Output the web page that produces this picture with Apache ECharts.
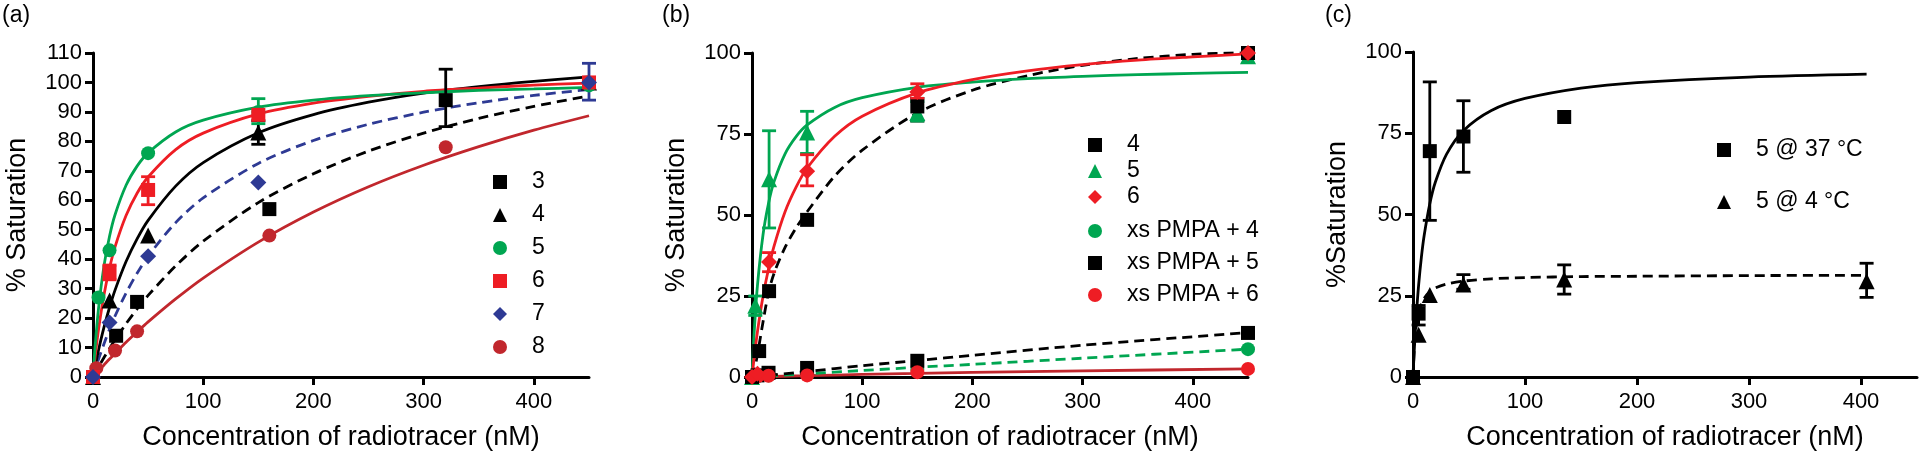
<!DOCTYPE html>
<html>
<head>
<meta charset="utf-8">
<title>Saturation binding</title>
<script src="https://cdn.jsdelivr.net/npm/echarts@6/dist/echarts.min.js"></script>
<style>
  html, body { margin: 0; padding: 0; background: #fff; }
  #chart { width: 1920px; height: 456px; }
</style>
</head>
<body>
<div id="chart"></div>
<script>
// 坐标轴刻度
const xTicks = [0, 100, 200, 300, 400]

// (a) 数据点 [nM, %]
const a3 = [[0, 0], [21, 14], [40, 25.5], [160, 57], [320, 94]]
const a4 = [[0, 0], [15, 26], [50, 48], [150, 83], [450, 100]]
const a5 = [[0, 0], [5, 27], [15, 43], [50, 76], [150, 90], [450, 99]]
const a6 = [[0, 0], [15, 35.5], [50, 63.5], [150, 89], [450, 100]]
const a7 = [[0, 0], [15, 18.5], [50, 41], [150, 66], [450, 100]]
const a8 = [[0, 0], [3, 3], [20, 9], [40, 15.5], [160, 48], [320, 78]]
// (a) 误差 [nM, low, high]
const a3Err = [[320, 85, 104.5]]
const a4Err = [[150, 79, 87]]
const a5Err = [[150, 86, 94.5]]
const a6Err = [[15, 33, 38], [50, 58.5, 68]]
const a7Err = [[450, 94, 106.5]]
// (a) 拟合曲线
const aFitX = [0, 2, 5, 10, 15, 20, 30, 40, 50, 75, 100, 150, 200, 250, 300, 350, 400, 450]
const a3Fit = [0, 1.4, 3.4, 6.6, 9.7, 12.6, 18.1, 23.1, 27.7, 37.7, 46.1, 59.2, 69, 76.7, 82.8, 87.8, 91.9, 95.4]
const a4Fit = [0, 3.8, 9.1, 16.9, 23.6, 29.5, 39.2, 46.9, 53.2, 64.8, 72.8, 82.9, 89.1, 93.3, 96.4, 98.6, 100.4, 101.9]
const a5Fit = [0, 10.7, 23.2, 37.8, 47.8, 55.1, 65.1, 71.6, 76.1, 83.2, 87.2, 91.6, 94, 95.5, 96.5, 97.3, 97.8, 98.3]
const a6Fit = [0, 7.1, 16.1, 27.9, 37, 44.2, 54.8, 62.4, 67.9, 77.2, 82.8, 89.3, 93, 95.3, 97, 98.1, 99.1, 99.8]
const a7Fit = [0, 2.5, 6, 11.3, 16.2, 20.7, 28.5, 35.2, 41, 52.4, 60.8, 72.5, 80.3, 85.8, 89.9, 93.1, 95.6, 97.6]
const a8Fit = [0, 0.8, 2.1, 4.1, 6.1, 8, 11.8, 15.3, 18.7, 26.5, 33.6, 45.8, 56, 64.6, 71.9, 78.2, 83.8, 88.7]

// (b) 数据点
const b4 = [[0, 0], [6.5, 8], [15.5, 26.5], [50, 48.5], [150, 83.5], [450, 100]]
const b5 = [[0, 0], [3, 22], [15.5, 61], [50, 75.5], [150, 81.5], [450, 99]]
const b6 = [[0, 0], [5, 1], [15.5, 35.5], [50, 63.5], [150, 88], [450, 100]]
const bX4 = [[0, 0], [5, 0.3], [15, 0.5], [50, 0.8], [150, 2.5], [450, 8.6]]
const bX5 = [[0, 0], [5, 0.5], [15, 1.3], [50, 2.8], [150, 5], [450, 13.6]]
const bX6 = [[0, 0], [5, 0.2], [15, 0.4], [50, 0.5], [150, 1.5], [450, 2.5]]
const b4Err = [[150, 79, 86]]
const b5Err = [[3, 19, 25], [15.5, 46, 76], [50, 69, 82], [150, 79, 85]]
const b6Err = [[15.5, 32.5, 38.4], [50, 59, 68.6], [150, 86, 90.5]]
const bFitX = [0, 2, 5, 10, 15, 20, 30, 40, 50, 75, 100, 150, 200, 250, 300, 350, 400, 450]
const b4Fit = [0, 2, 7, 17, 26, 32, 40, 46, 51, 62, 70, 81.5, 88.5, 93, 96.2, 98.3, 99.6, 100.2]
const b5Fit = [0, 13.8, 28.4, 43.9, 53.6, 60.3, 68.9, 74.2, 77.8, 83.2, 86.2, 89.4, 91, 92.1, 92.8, 93.3, 93.7, 94]
const b6Fit = [0, 6.1, 14.1, 24.9, 33.4, 40.4, 51, 58.6, 64.5, 74.3, 80.5, 87.7, 91.8, 94.5, 96.4, 97.8, 98.8, 99.7]
const bLowX = [0, 50, 100, 150, 200, 300, 450]
const bX4Fit = [0, 1, 2, 3, 3.9, 5.8, 8.6]
const bX5Fit = [0, 1.7, 3.5, 5.1, 6.7, 9.8, 13.7]
const bX6Fit = [0, 0.4, 0.8, 1.1, 1.4, 1.9, 2.5]

// (c) 数据点
const c37 = [[0, 0], [5, 19.5], [15, 69.5], [45, 74], [135, 80]]
const c4 = [[0, 0], [5, 13], [15, 25.2], [45, 28.5], [135, 30], [405, 29.5]]
const c37Err = [[5, 16, 22], [15, 48.2, 90.8], [45, 63, 85]]
const c4Err = [[45, 27, 31.5], [135, 25.5, 34.5], [405, 24.5, 35]]
const cFitX = [0, 1, 2, 3, 5, 7.5, 10, 15, 20, 30, 45, 70, 100, 150, 200, 300, 405]
const c37Fit = [0, 7.4, 13.7, 19.2, 28.2, 36.9, 43.6, 53.3, 60, 68.6, 75.8, 82, 85.7, 88.9, 90.6, 92.3, 93.2]
const c4Fit = [0, 7.9, 12.6, 15.8, 19.7, 22.5, 24.2, 26.3, 27.4, 28.6, 29.5, 30.2, 30.6, 30.9, 31, 31.2, 31.3]

// 颜色
const BLACK = '#000'
const GREEN = '#00a651'
const RED = '#ee1d24'
const DARKRED = '#c1272d'
const BLUE = '#2e3a94'
const FONT = '"Liberation Sans", Arial, Helvetica, sans-serif'

const legendNames = {
    a3: '3', a4: '4', a5: '5', a6: '6', a7: '7', a8: '8',
    b4: '4', b5: '5', b6: '6', bX4: 'xs PMPA + 4', bX5: 'xs PMPA + 5', bX6: 'xs PMPA + 6',
    c37: '5 @ 37 °C', c4: '5 @ 4 °C'
}

const zip = (xs, ys) => xs.map((x, i) => [x, ys[i]])

const fit = (idx, xs, ys, color, dashed) => ({
    type: 'line',
    xAxisIndex: idx,
    yAxisIndex: idx,
    data: zip(xs, ys),
    showSymbol: false,
    smooth: 0.3,
    silent: true,
    lineStyle: { color: color, width: 2.8, type: dashed ? [10, 6] : 'solid' },
    z: 2
})

const renderErr = (params, api) => {
    const x = api.value(0)
    const lo = api.coord([x, api.value(1)])
    const hi = api.coord([x, api.value(2)])
    const w = 7
    const style = { stroke: api.visual('color'), lineWidth: 2.8 }
    return {
        type: 'group',
        children: [
            { type: 'line', shape: { x1: lo[0], y1: lo[1], x2: hi[0], y2: hi[1] }, style: style },
            { type: 'line', shape: { x1: hi[0] - w, y1: hi[1], x2: hi[0] + w, y2: hi[1] }, style: style },
            { type: 'line', shape: { x1: lo[0] - w, y1: lo[1], x2: lo[0] + w, y2: lo[1] }, style: style }
        ]
    }
}

const err = (idx, data, color) => ({
    type: 'custom',
    xAxisIndex: idx,
    yAxisIndex: idx,
    data: data,
    itemStyle: { color: color },
    renderItem: renderErr,
    silent: true,
    z: 3
})

const pts = (idx, name, data, symbol, size, color) => ({
    type: 'scatter',
    name: name,
    xAxisIndex: idx,
    yAxisIndex: idx,
    data: data,
    symbol: symbol,
    symbolSize: size,
    itemStyle: { color: color, opacity: 1 },
    z: 4
})

const axisBase = {
    axisLine: { show: true, onZero: false, lineStyle: { color: BLACK, width: 3 } },
    axisTick: { show: true, inside: false, length: 8, lineStyle: { color: BLACK, width: 3 } },
    splitLine: { show: false },
    nameTextStyle: { fontSize: 27, color: BLACK, fontFamily: FONT }
}

const xAxis = (idx) => Object.assign({}, axisBase, {
    type: 'value',
    gridIndex: idx,
    min: 0,
    max: 450,
    interval: 100,
    name: 'Concentration of radiotracer (nM)',
    nameLocation: 'middle',
    nameGap: 47,
    axisTick: Object.assign({}, axisBase.axisTick, { customValues: xTicks }),
    axisLabel: { fontSize: 22, color: BLACK, fontFamily: FONT, margin: 14, customValues: xTicks }
})

const yAxis = (idx, max, interval, name) => Object.assign({}, axisBase, {
    type: 'value',
    gridIndex: idx,
    min: 0,
    max: max,
    interval: interval,
    name: name,
    nameLocation: 'middle',
    nameGap: 62,
    axisLabel: { fontSize: 22, color: BLACK, fontFamily: FONT, margin: 11 }
})

const legend = (data, left, top, gap) => ({
    data: data,
    orient: 'vertical',
    left: left,
    top: top,
    itemWidth: 14,
    itemHeight: 14,
    itemGap: gap,
    padding: 0,
    selectedMode: false,
    formatter: (n) => legendNames[n],
    textStyle: {
        fontSize: 23,
        lineHeight: 24,
        color: BLACK,
        fontFamily: FONT,
        padding: [0, 0, 0, 20]
    }
})

const chart = echarts.init(document.getElementById('chart'), null, { renderer: 'canvas' })

const option = {
    backgroundColor: '#fff',
    animation: false,
    textStyle: { fontFamily: FONT },
    title: [
        { text: '(a)', left: 2, top: 4, padding: 0, textStyle: { fontSize: 23, fontWeight: 'normal', color: BLACK, fontFamily: FONT } },
        { text: '(b)', left: 662, top: 4, padding: 0, textStyle: { fontSize: 23, fontWeight: 'normal', color: BLACK, fontFamily: FONT } },
        { text: '(c)', left: 1325, top: 4, padding: 0, textStyle: { fontSize: 23, fontWeight: 'normal', color: BLACK, fontFamily: FONT } }
    ],
    grid: [
        { left: 93, top: 53, width: 496, height: 325 },
        { left: 752, top: 53, width: 496, height: 325 },
        { left: 1413, top: 52, width: 504, height: 325 }
    ],
    xAxis: [xAxis(0), xAxis(1), xAxis(2)],
    yAxis: [
        yAxis(0, 110, 10, '% Saturation'),
        yAxis(1, 100, 25, '% Saturation'),
        yAxis(2, 100, 25, '%Saturation')
    ],
    legend: [
        legend(['a3', 'a4', 'a5', 'a6', 'a7', 'a8'], 493, 170, 9),
        legend(['b4', 'b5', 'b6'], 1088, 133, 2),
        legend(['bX4', 'bX5', 'bX6'], 1088, 219, 8),
        legend(['c37', 'c4'], 1717, 138, 28)
    ],
    series: [
        // (a)
        fit(0, aFitX, a8Fit, DARKRED, false),
        fit(0, aFitX, a3Fit, BLACK, true),
        fit(0, aFitX, a7Fit, BLUE, true),
        fit(0, aFitX, a4Fit, BLACK, false),
        fit(0, aFitX, a6Fit, RED, false),
        fit(0, aFitX, a5Fit, GREEN, false),
        err(0, a3Err, BLACK),
        err(0, a4Err, BLACK),
        err(0, a5Err, GREEN),
        err(0, a6Err, RED),
        err(0, a7Err, BLUE),
        pts(0, 'a3', a3, 'rect', 14, BLACK),
        pts(0, 'a4', a4, 'triangle', 16, BLACK),
        pts(0, 'a5', a5, 'circle', 14, GREEN),
        pts(0, 'a8', a8, 'circle', 14, DARKRED),
        pts(0, 'a6', a6, 'rect', 14, RED),
        pts(0, 'a7', a7, 'diamond', 16, BLUE),
        // (b)
        fit(1, bLowX, bX6Fit, DARKRED, false),
        fit(1, bLowX, bX4Fit, GREEN, true),
        fit(1, bLowX, bX5Fit, BLACK, true),
        fit(1, bFitX, b4Fit, BLACK, true),
        fit(1, bFitX, b5Fit, GREEN, false),
        fit(1, bFitX, b6Fit, RED, false),
        err(1, b4Err, BLACK),
        err(1, b5Err, GREEN),
        err(1, b6Err, RED),
        pts(1, 'bX4', bX4, 'circle', 14, GREEN),
        pts(1, 'bX5', bX5, 'rect', 14, BLACK),
        pts(1, 'bX6', bX6, 'circle', 14, RED),
        pts(1, 'b5', b5, 'triangle', 16, GREEN),
        pts(1, 'b4', b4, 'rect', 14, BLACK),
        pts(1, 'b6', b6, 'diamond', 16, RED),
        // (c)
        fit(2, cFitX, c37Fit, BLACK, false),
        fit(2, cFitX, c4Fit, BLACK, true),
        err(2, c37Err, BLACK),
        err(2, c4Err, BLACK),
        pts(2, 'c37', c37, 'rect', 14, BLACK),
        pts(2, 'c4', c4, 'triangle', 16, BLACK)
    ]
}

chart.setOption(option)
window.addEventListener('resize', () => chart.resize())
</script>
</body>
</html>
